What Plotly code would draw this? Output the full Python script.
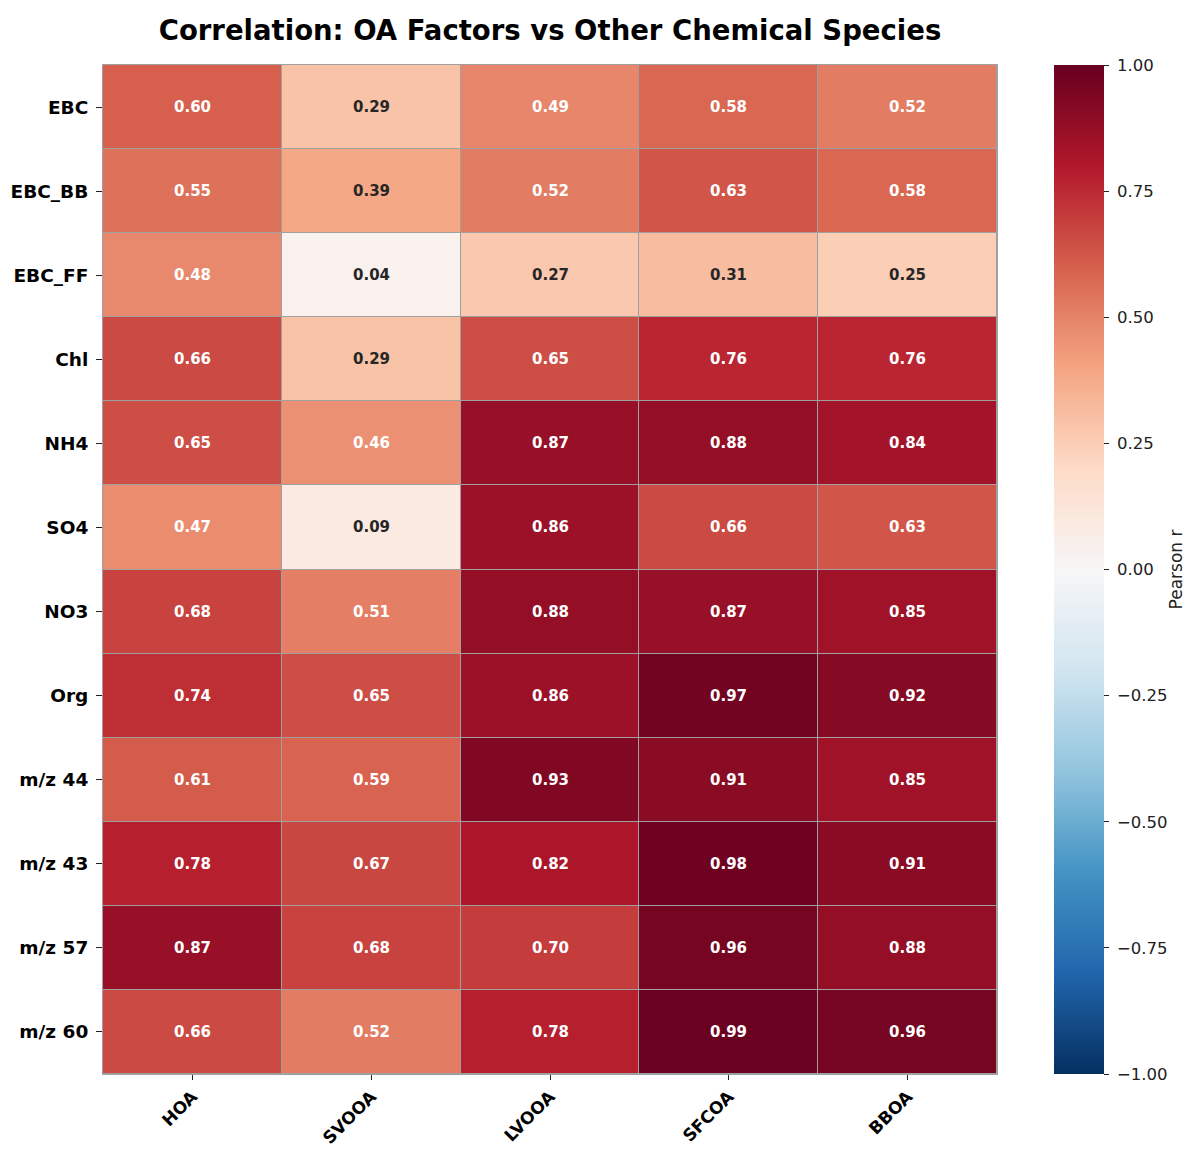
import plotly.graph_objects as go

factors = ["HOA", "SVOOA", "LVOOA", "SFCOA", "BBOA"]
species = ["EBC", "EBC_BB", "EBC_FF", "Chl", "NH4", "SO4", "NO3", "Org",
           "m/z 44", "m/z 43", "m/z 57", "m/z 60"]
r_EBC = [0.60, 0.29, 0.49, 0.58, 0.52]
r_EBC_BB = [0.55, 0.39, 0.52, 0.63, 0.58]
r_EBC_FF = [0.48, 0.04, 0.27, 0.31, 0.25]
r_Chl = [0.66, 0.29, 0.65, 0.76, 0.76]
r_NH4 = [0.65, 0.46, 0.87, 0.88, 0.84]
r_SO4 = [0.47, 0.09, 0.86, 0.66, 0.63]
r_NO3 = [0.68, 0.51, 0.88, 0.87, 0.85]
r_Org = [0.74, 0.65, 0.86, 0.97, 0.92]
r_mz44 = [0.61, 0.59, 0.93, 0.91, 0.85]
r_mz43 = [0.78, 0.67, 0.82, 0.98, 0.91]
r_mz57 = [0.87, 0.68, 0.70, 0.96, 0.88]
r_mz60 = [0.66, 0.52, 0.78, 0.99, 0.96]
z = [r_EBC, r_EBC_BB, r_EBC_FF, r_Chl, r_NH4, r_SO4, r_NO3, r_Org,
     r_mz44, r_mz43, r_mz57, r_mz60]
cbar_ticks = [-1.0, -0.75, -0.5, -0.25, 0.0, 0.25, 0.5, 0.75, 1.0]

rdbu_r = ["#053061", "#2166ac", "#4393c3", "#92c5de", "#d1e5f0", "#f7f7f7",
          "#fddbc7", "#f4a582", "#d6604d", "#b2182b", "#67001f"]
colorscale = [[i / 10, c] for i, c in enumerate(rdbu_r)]

def hex2rgb(h):
    h = h.lstrip("#")
    return [int(h[i:i + 2], 16) / 255 for i in (0, 2, 4)]

def color_at(v):
    t = (v + 1) / 2 * 10
    i = min(int(t), 9)
    f = t - i
    a, b = hex2rgb(rdbu_r[i]), hex2rgb(rdbu_r[i + 1])
    return [a[k] + (b[k] - a[k]) * f for k in range(3)]

def lum(rgb):
    c = [x / 12.92 if x <= 0.03928 else ((x + 0.055) / 1.055) ** 2.4 for x in rgb]
    return 0.2126 * c[0] + 0.7152 * c[1] + 0.0722 * c[2]

OFF = 8  # page body margin
W, H = 1194 - OFF, 1149 - OFF

fig = go.Figure(go.Heatmap(
    z=z, x=factors, y=species, zmin=-1, zmax=1, colorscale=colorscale,
    xgap=1, ygap=1, hoverongaps=False,
    colorbar=dict(
        xref="container", x=(1054 - OFF) / W, xanchor="left", xpad=0,
        yref="paper", y=1, yanchor="top", lenmode="fraction", len=1, ypad=0,
        thickness=50, outlinewidth=0, tickvals=cbar_ticks,
        ticktext=["\u00a0" + f"{t:.2f}".replace("-", "\u2212") + "\u00a0\u00a0"
                  for t in cbar_ticks],
        ticks="outside", ticklen=5, tickcolor="#222", tickwidth=1,
        tickfont=dict(family="DejaVu Sans", size=16.5, color="#222"),
        title=dict(text="Pearson r", side="right",
                   font=dict(family="DejaVu Sans", size=17, color="#222")),
    ),
))

annotations = []
for i, sp in enumerate(species):
    for j, fa in enumerate(factors):
        v = z[i][j]
        col = "#262626" if lum(color_at(v)) > 0.408 else "white"
        annotations.append(dict(x=fa, y=sp, text=f"<b>{v:.2f}</b>", showarrow=False,
                                font=dict(family="DejaVu Sans", size=15, color=col)))

fig.update_layout(
    width=W, height=H,
    margin=dict(l=103 - OFF, r=W - (997 - OFF), t=65 - OFF, b=H - (1074 - OFF),
                autoexpand=False),
    plot_bgcolor="#a0a0a0", paper_bgcolor="white",
    title=dict(text="<b>Correlation: OA Factors vs Other Chemical Species</b>",
               x=(550 - OFF) / W, xanchor="center", y=1 - (30 - OFF) / H, yanchor="middle",
               font=dict(family="DejaVu Sans", size=27.5, color="black")),
    annotations=annotations,
)
fig.update_xaxes(tickangle=-45, ticks="outside", ticklen=5, tickcolor="#222",
                 ticklabelstandoff=0, automargin=False,
                 showline=True, linecolor="#a0a0a0", mirror=True, showgrid=False,
                 tickfont=dict(family="DejaVu Sans", size=17, color="black"),
                 tickprefix="<b>", ticksuffix="</b>")
fig.update_yaxes(autorange="reversed", ticks="outside", ticklen=6, tickcolor="#222",
                 ticklabelstandoff=4, automargin=False,
                 showline=True, linecolor="#a0a0a0", mirror=True, showgrid=False,
                 tickfont=dict(family="DejaVu Sans", size=18.5, color="black"),
                 tickprefix="<b>", ticksuffix="</b>")

fig.write_html("out.html")
